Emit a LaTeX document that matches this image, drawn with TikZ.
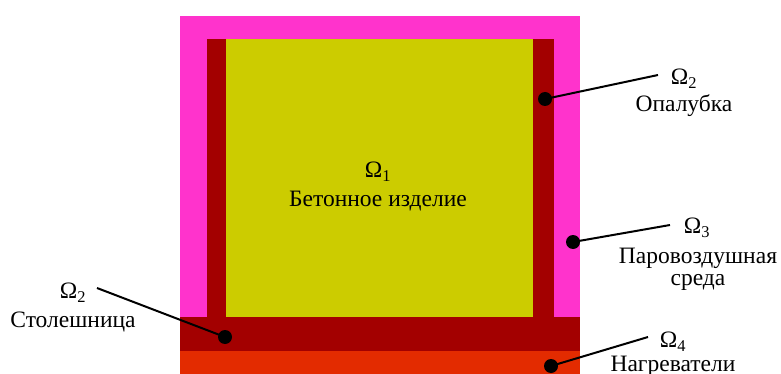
\documentclass[tikz,border=0pt]{standalone}
\usepackage{fontspec}
\setmainfont{Liberation Serif}
\definecolor{steam}{HTML}{FF33CC}
\definecolor{form}{HTML}{A30000}
\definecolor{concrete}{HTML}{CCCC00}
\definecolor{heater}{HTML}{E32B00}
\tikzset{
  pin/.style={circle, fill=black, inner sep=0pt, minimum size=14pt},
  lead/.style={line width=2pt, black},
  lbl/.style={font=\fontsize{23.5}{24}\selectfont, inner sep=0pt, align=center}
}
\begin{document}
\begin{tikzpicture}[x=1pt, y=-1pt]
  \useasboundingbox (0,0) rectangle (781,374);
  % layers of the cross-section
  \fill[steam] (180,16) rectangle (580,374);
  \fill[form] (207,39) rectangle (554,317);
  \fill[concrete] (226,39) rectangle (533,317);
  \fill[form] (180,317) rectangle (580,351);
  \fill[heater] (180,351) rectangle (580,374);

  % central label
  \node[lbl] (o1) at (378,172) {Ω\textsubscript{1}};
  \node[lbl] (t1) at (378,201) {Бетонное изделие};

  % marker points
  \node[pin] (p2r) at (545,99) {};
  \node[pin] (p3) at (573,242) {};
  \node[pin] (p4) at (551,366) {};
  \node[pin] (p2l) at (225,337) {};

  % leader ends
  \coordinate (e2r) at (658,75);
  \coordinate (e3) at (670,225);
  \coordinate (e4) at (648,337);
  \coordinate (e2l) at (97,288);

  \draw[lead] (p2r.center) -- (e2r);
  \draw[lead] (p3.center) -- (e3);
  \draw[lead] (p4.center) -- (e4);
  \draw[lead] (p2l.center) -- (e2l);

  % side labels
  \node[lbl] (o2r) at (684,79) {Ω\textsubscript{2}};
  \node[lbl] (t2r) at (684,106) {Опалубка};
  \node[lbl] (o3) at (697,228) {Ω\textsubscript{3}};
  \node[lbl] (t3a) at (698,258) {Паровоздушная};
  \node[lbl] (t3b) at (698,282) {среда};
  \node[lbl] (o4) at (673,342) {Ω\textsubscript{4}};
  \node[lbl] (t4) at (673,366) {Нагреватели};
  \node[lbl] (o2l) at (73,293) {Ω\textsubscript{2}};
  \node[lbl] (t2l) at (73,322) {Столешница};
\end{tikzpicture}
\end{document}
